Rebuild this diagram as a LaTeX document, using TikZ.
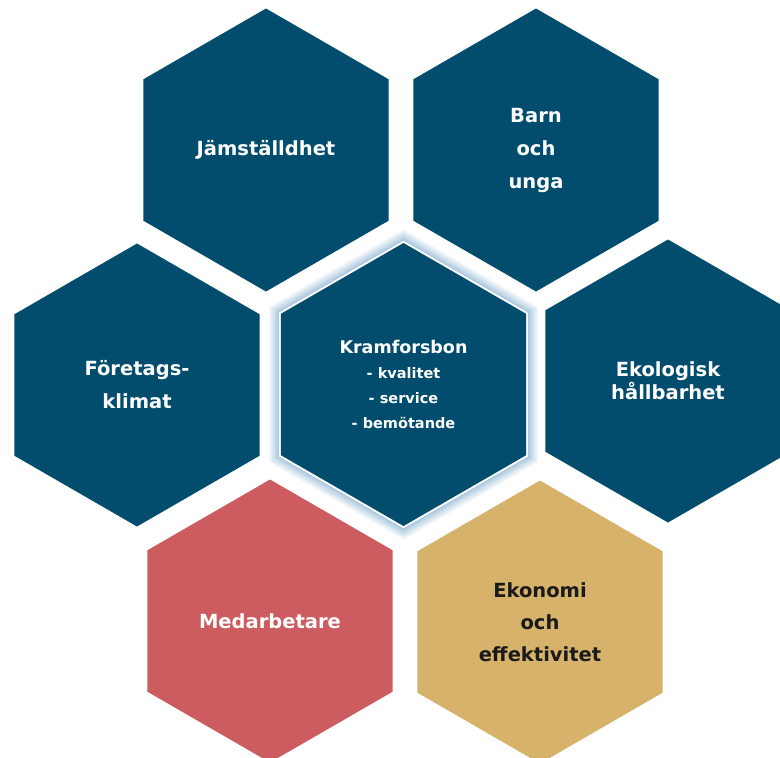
\documentclass[tikz,border=0pt]{standalone}
\usepackage{fontspec}
\setmainfont{DejaVu Sans}
\usepackage{tikz}
\usetikzlibrary{shapes.geometric}
\definecolor{hexblue}{HTML}{024D6D}
\definecolor{hexred}{HTML}{CD5C60}
\definecolor{hexgold}{HTML}{D7B26B}
\definecolor{glowblue}{HTML}{A3C4DC}
\definecolor{darktext}{HTML}{1A1A1A}

\begin{document}
\begin{tikzpicture}[
  x=1pt, y=-1pt,
  hexa/.style={regular polygon, regular polygon sides=6, shape border rotate=30,
               minimum size=283pt, inner sep=0pt, fill=hexblue, text=white,
               align=center, font=\fontsize{19.5}{33}\selectfont\bfseries},
  glow/.style={regular polygon, regular polygon sides=6, shape border rotate=30,
               inner sep=0pt, draw=none}
]
\useasboundingbox (0,0) rectangle (780,758);

% Glow round the centre
\coordinate (mid) at (403.5,384.5);
\foreach \i in {11,...,0}{
  \pgfmathsetmacro{\glowsize}{2*(124.5+\i)*1.1547}
  \pgfmathsetmacro{\glowmix}{100-9*\i}
  \node[glow, minimum size=\glowsize pt, fill=glowblue!\glowmix!white] (glow\i) at (mid) {};
}
\node[glow, minimum size=287.5pt, fill=white] (rim) at (mid) {};

% Centre
\node[hexa, font=\fontsize{17.5}{27}\selectfont\bfseries] (kram) at (mid)
  {Kramforsbon\\[-2pt]{\fontsize{14.5}{24}\selectfont - kvalitet}\\[-2pt]
   {\fontsize{14.5}{24}\selectfont - service}\\[-2pt]{\fontsize{14.5}{24}\selectfont - bemötande}};

% Top row
\node[hexa] (jam) at (266,150) {Jämställdhet};
\node[hexa] (barn) at (536,150) {Barn\\och\\unga};

% Middle row
\node[hexa] (foretag) at (137,385) {Företags-\\klimat};
\node[hexa, font=\fontsize{19.5}{23}\selectfont\bfseries] (eko) at (668,381) {Ekologisk\\hållbarhet};

% Bottom row
\node[hexa, fill=hexred] (medarb) at (270,621) {Medarbetare};
\node[hexa, fill=hexgold, text=darktext, font=\fontsize{19.5}{32}\selectfont\bfseries] (ekonomi) at (540,622)
  {Ekonomi\\och\\effektivitet};

\end{tikzpicture}
\end{document}
